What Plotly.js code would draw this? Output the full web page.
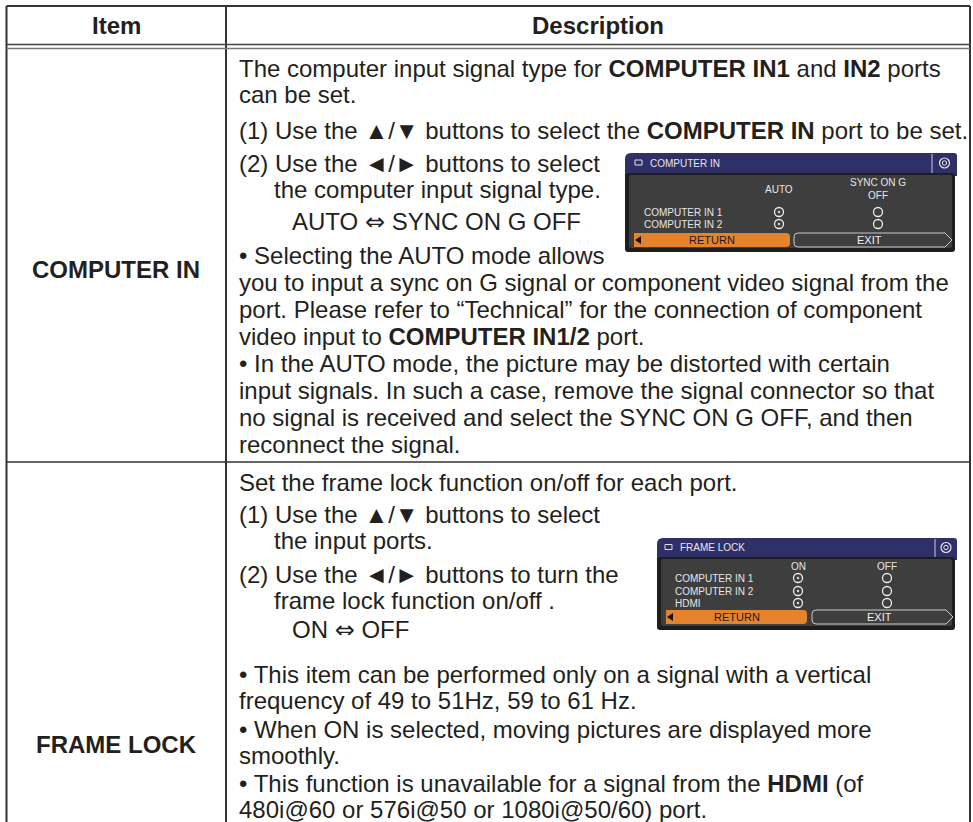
<!DOCTYPE html>
<html>
<head>
<meta charset="utf-8">
<script src="https://cdn.plot.ly/plotly-3.0.1.min.js"></script>
<style>html,body{margin:0;padding:0;background:#fff;}#chart{width:973px;height:822px;}</style>
</head>
<body>
<div id="chart"></div>
<script>
// ---------------- DATA ----------------
const headers = ["Item", "Description"];
const items = ["COMPUTER IN", "FRAME LOCK"];

const ciParagraphs = [
  ["The computer input signal type for <b>COMPUTER IN1</b> and <b>IN2</b> ports", "can be set."],
  ["(1) Use the ▲/▼ buttons to select the <b>COMPUTER IN</b> port to be set."],
  ["(2) Use the ◄/► buttons to select", "the computer input signal type."],
  ["AUTO ⇔ SYNC ON G OFF"],
  ["• Selecting the AUTO mode allows",
   "you to input a sync on G signal or component video signal from the",
   "port. Please refer to “Technical” for the connection of component",
   "video input to <b>COMPUTER IN1/2</b> port.",
   "• In the AUTO mode, the picture may be distorted with certain",
   "input signals. In such a case, remove the signal connector so that",
   "no signal is received and select the SYNC ON G OFF, and then",
   "reconnect the signal."]
];

const flParagraphs = [
  ["Set the frame lock function on/off for each port."],
  ["(1) Use the ▲/▼ buttons to select", "the input ports."],
  ["(2) Use the ◄/► buttons to turn the", "frame lock function on/off ."],
  ["ON ⇔ OFF"],
  ["• This item can be performed only on a signal with a vertical", "frequency of 49 to 51Hz, 59 to 61 Hz."],
  ["• When ON is selected, moving pictures are displayed more", "smoothly."],
  ["• This function is unavailable for a signal from the <b>HDMI</b> (of", "480i@60 or 576i@50 or 1080i@50/60) port."]
];

const ciMenuTitle = "COMPUTER IN";
const ciMenuCols = ["AUTO", "SYNC ON G<br>OFF"];
const ciMenuRows = ["COMPUTER IN 1", "COMPUTER IN 2"];
const ciSelected = [0, 0];

const flMenuTitle = "FRAME LOCK";
const flMenuCols = ["ON", "OFF"];
const flMenuRows = ["COMPUTER IN 1", "COMPUTER IN 2", "HDMI"];
const flSelected = [0, 0, 0];

const menuButtons = ["RETURN", "EXIT"];

// ---------------- LAYOUT / STYLE ----------------
const W = 973, H = 822;
const TXT = "#231f20";
const FONT = "Liberation Sans, Arial, Helvetica, sans-serif";
const MFONT = "Liberation Sans Narrow, Arial Narrow, Liberation Sans, Arial, sans-serif";
const grid = {left: 6.5, right: 970, top: 6, colX: 226, headA: 44.5, headB: 48.5, rowSep: 462, bottom: 830};
const textX = 237;
const ciText = {y0: 68, gaps: [0, 36, 33, 33, 33], steps: [26, 0, 26, 0, 27],
  indent: [[0, 0], [0], [0, 35], [53], [0, 0, 0, 0, 0, 0, 0, 0]]};
const flText = {y0: 482, gaps: [0, 32, 34, 30, 44, 29, 28], steps: [0, 26, 26, 0, 26, 26, 26],
  indent: [[0], [0, 35], [0, 35], [53], [0, 0], [0, 0], [0, 0]]};
const itemY = [269, 744];
const headerY = 25;

const ciCfg = {x0: 625, x1: 957, y0: 153, y1: 252, titleH: 20, titleX: 648, sepX: 932,
  colX: [779, 878], headY: 189, rowX: 642, rowY: [212, 224],
  retX0: 634, retX1: 790, exitX0: 794, exitX1: 945, btnY0: 233, btnY1: 247};
const flCfg = {x0: 657, x1: 957, y0: 538, y1: 630, titleH: 19, titleX: 678, sepX: 935,
  colX: [798, 887], headY: 566, rowX: 673, rowY: [578, 591, 603],
  retX0: 666, retX1: 807, exitX0: 812, exitX1: 946, btnY0: 610, btnY1: 624};

const shapes = [];
const annotations = [];
const traces = [];

function line(x0, y0, x1, y1, color, width) {
  shapes.push({type: "line", xref: "x", yref: "y", x0, y0, x1, y1, line: {color, width}});
}
function ann(x, y, text, opts) {
  annotations.push(Object.assign({x, y, text, xref: "x", yref: "y", showarrow: false,
    xanchor: "left", yanchor: "middle", font: {family: FONT, size: 24, color: TXT}}, opts || {}));
}
function pathShape(path, fill, lineColor, lineWidth) {
  shapes.push({type: "path", xref: "x", yref: "y", path, layer: "below",
    fillcolor: fill || "rgba(0,0,0,0)", line: {color: lineColor || "rgba(0,0,0,0)", width: lineWidth || 0}});
}
function rrect(x0, y0, x1, y1, r) {
  return `M${x0 + r},${y0} H${x1 - r} Q${x1},${y0} ${x1},${y0 + r} V${y1 - r} Q${x1},${y1} ${x1 - r},${y1} H${x0 + r} Q${x0},${y1} ${x0},${y1 - r} V${y0 + r} Q${x0},${y0} ${x0 + r},${y0} Z`;
}
// the double arrow is drawn with DejaVu Sans, whose glyph has the outlined shape of the original
function fmt(s) {
  return s.replace("⇔", '<span style="font-family:DejaVu Sans">⇔</span>');
}

// table grid
line(grid.left, grid.top, grid.right, grid.top, "#333", 2);
line(grid.left, grid.top, grid.left, grid.bottom, "#333", 2);
line(grid.right, grid.top, grid.right, grid.bottom, "#333", 2);
line(grid.colX, grid.top, grid.colX, grid.bottom, "#333", 2);
line(grid.left, grid.headA, grid.right, grid.headA, "#444", 1.6);
line(grid.left, grid.headB, grid.right, grid.headB, "#777", 1.4);
line(grid.left, grid.rowSep, grid.right, grid.rowSep, "#333", 1.6);

// headers
const colCenters = [(grid.left + grid.colX) / 2, (grid.colX + grid.right) / 2];
headers.forEach((h, i) => ann(colCenters[i], headerY, "<b>" + h + "</b>", {xanchor: "center"}));
items.forEach((it, i) => ann(colCenters[0], itemY[i], "<b>" + it + "</b>", {xanchor: "center"}));

// description text
function placeParas(paras, spec) {
  let y = spec.y0;
  let first = true;
  paras.forEach((p, pi) => {
    p.forEach((ln, li) => {
      if (!first) y += (li === 0 ? spec.gaps[pi] : spec.steps[pi]);
      first = false;
      ann(textX + spec.indent[pi][li], y, fmt(ln));
    });
  });
}
placeParas(ciParagraphs, ciText);
placeParas(flParagraphs, flText);

// menus
function drawMenu(c, title, cols, rows, selected) {
  const tb = c.y0 + c.titleH;
  pathShape(`M${c.x0},${tb + 3} V${c.y0 + 6} Q${c.x0},${c.y0} ${c.x0 + 6},${c.y0} H${c.x1 - 3} Q${c.x1},${c.y0} ${c.x1},${c.y0 + 3} V${tb + 3} Z`, "#2f3068");
  pathShape(rrect(c.x0, tb, c.x1 - 2, c.y1, 3), "#1e1e1e");
  pathShape(rrect(c.x0 + 4, tb + 2, c.x1 - 5, c.y1 - 4, 2), "#3e3e3e");
  shapes.push({type: "line", xref: "x", yref: "y", x0: c.sepX, x1: c.sepX, y0: c.y0 + 1, y1: tb, line: {color: "#c9c9d8", width: 1}});
  const icx = (c.sepX + c.x1) / 2, icy = c.y0 + c.titleH / 2;
  shapes.push({type: "circle", xref: "x", yref: "y", x0: icx - 5, x1: icx + 5, y0: icy - 5, y1: icy + 5, line: {color: "#e8e8f0", width: 1.2}});
  shapes.push({type: "circle", xref: "x", yref: "y", x0: icx - 2.2, x1: icx + 2.2, y0: icy - 2.2, y1: icy + 2.2, line: {color: "#e8e8f0", width: 1}});
  shapes.push({type: "rect", xref: "x", yref: "y", x0: c.titleX - 13, x1: c.titleX - 6, y0: icy - 3, y1: icy + 2, line: {color: "#e0e0ea", width: 1}});
  ann(c.titleX, icy, title, {font: {family: MFONT, size: 10, color: "#e6e6ee"}});
  cols.forEach((h, i) => ann(c.colX[i], c.headY, h, {xanchor: "center", font: {family: MFONT, size: 10, color: "#e6e6e6"}}));
  rows.forEach((r, i) => ann(c.rowX, c.rowY[i], r, {font: {family: MFONT, size: 10, color: "#e6e6e6"}}));
  const yc = (c.btnY0 + c.btnY1) / 2;
  pathShape(`M${c.retX0},${c.btnY0} H${c.retX1 - 4} Q${c.retX1},${c.btnY0} ${c.retX1},${c.btnY0 + 4} V${c.btnY1 - 4} Q${c.retX1},${c.btnY1} ${c.retX1 - 4},${c.btnY1} H${c.retX0} Z`, "#e5832d");
  pathShape(`M${c.retX0 + 1},${yc} L${c.retX0 + 7},${yc - 4} L${c.retX0 + 7},${yc + 4} Z`, "#111");
  pathShape(`M${c.exitX0 + 4},${c.btnY0} H${c.exitX1} L${c.exitX1 + 7},${yc} L${c.exitX1},${c.btnY1} H${c.exitX0 + 4} Q${c.exitX0},${c.btnY1} ${c.exitX0},${c.btnY1 - 4} V${c.btnY0 + 4} Q${c.exitX0},${c.btnY0} ${c.exitX0 + 4},${c.btnY0} Z`, null, "#c8c8c8", 1);
  ann((c.retX0 + c.retX1) / 2, yc, menuButtons[0], {xanchor: "center", font: {family: MFONT, size: 11, color: "#1a1a1a"}});
  ann((c.exitX0 + c.exitX1) / 2, yc, menuButtons[1], {xanchor: "center", font: {family: MFONT, size: 11, color: "#f0f0f0"}});
  const xs = [], ys = [], sym = [];
  rows.forEach((r, ri) => cols.forEach((h, ci) => {
    xs.push(c.colX[ci]); ys.push(c.rowY[ri]);
    sym.push(selected[ri] === ci ? "circle-open-dot" : "circle-open");
  }));
  traces.push({type: "scatter", mode: "markers", x: xs, y: ys, hoverinfo: "skip",
    marker: {symbol: sym, size: 9, color: "#ececec", line: {color: "#ececec", width: 1.3}}});
}
drawMenu(ciCfg, ciMenuTitle, ciMenuCols, ciMenuRows, ciSelected);
drawMenu(flCfg, flMenuTitle, flMenuCols, flMenuRows, flSelected);

const layout = {
  width: W, height: H,
  margin: {l: 0, r: 0, t: 0, b: 0, pad: 0},
  paper_bgcolor: "#ffffff", plot_bgcolor: "#ffffff",
  showlegend: false,
  xaxis: {range: [0, W], visible: false, fixedrange: true},
  yaxis: {range: [H, 0], visible: false, fixedrange: true},
  shapes, annotations
};
Plotly.newPlot("chart", traces, layout, {staticPlot: true, displayModeBar: false});
</script>
</body>
</html>
